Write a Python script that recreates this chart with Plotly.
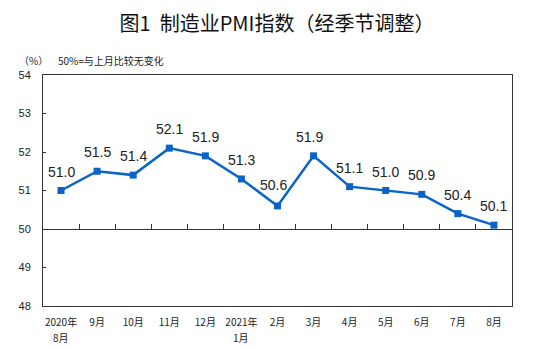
import plotly.graph_objects as go

months = ["2020年", "9月", "10月", "11月", "12月", "2021年", "2月", "3月",
          "4月", "5月", "6月", "7月", "8月"]
second_line = {0: "8月", 5: "1月"}
pmi = [51.0, 51.5, 51.4, 52.1, 51.9, 51.3, 50.6, 51.9, 51.1, 51.0, 50.9, 50.4, 50.1]
labels = [f"{v:.1f}" for v in pmi]

# label nudges (pixels) for a few points, as in the reference
label_dx = {6: -4, 7: -4}
label_dy = {6: 2}

LINE = "#0a64c8"
AX = "#333333"
TXT = "#222222"

fig = go.Figure()
fig.add_trace(go.Scatter(x=months, y=pmi, xaxis="x2", mode="lines",
                         line=dict(color="rgba(0,0,0,0)"), hoverinfo="skip", showlegend=False))
fig.add_trace(go.Scatter(
    x=months, y=pmi, mode="lines+markers",
    line=dict(color=LINE, width=2.5),
    marker=dict(symbol="square", size=7, color=LINE),
    showlegend=False, cliponaxis=False))

annotations = [
    dict(text="（%）", xref="paper", yref="paper", x=-26 / 469, y=1 + 15 / 231,
         xanchor="left", yanchor="middle", showarrow=False,
         font=dict(family="Noto Sans CJK SC", size=10, color=TXT)),
    dict(text="50%=与上月比较无变化", xref="paper", yref="paper", x=13 / 469, y=1 + 15 / 231,
         xanchor="left", yanchor="middle", showarrow=False,
         font=dict(family="Noto Sans CJK SC", size=10, color=TXT)),
]
for i, t in second_line.items():
    annotations.append(dict(text=t, xref="x", yref="paper", x=months[i], y=-31 / 231,
                            xanchor="center", yanchor="middle", showarrow=False,
                            borderpad=0,
                            font=dict(family="Noto Sans CJK SC", size=10, color=TXT)))
for i, (m, v, t) in enumerate(zip(months, pmi, labels)):
    annotations.append(dict(text=t, x=m, y=v, xref="x", yref="y", showarrow=False,
                            xanchor="center", yanchor="bottom",
                            xshift=label_dx.get(i, 0), yshift=9 + label_dy.get(i, 0),
                            font=dict(family="Liberation Sans, Arial", size=14, color=TXT)))

fig.update_layout(
    width=554, height=349,
    margin=dict(l=43, r=42, t=75, b=43, autoexpand=False),
    paper_bgcolor="white", plot_bgcolor="white",
    title=dict(text="图1  制造业PMI指数（经季节调整）", x=0.5, xanchor="center",
               y=1 - 24 / 349, yanchor="middle", automargin=False,
               font=dict(family="Noto Sans CJK SC", size=20, color="#111111")),
    xaxis=dict(type="category", range=[-0.5, 12.5], showline=True, linecolor=AX, linewidth=1,
               mirror=True, ticks="", showgrid=False, zeroline=False, automargin=False,
               tickfont=dict(family="Noto Sans CJK SC", size=10, color=TXT),
               ticklabelstandoff=7),
    xaxis2=dict(type="category", range=[-0.5, 12.5], overlaying="x", anchor="free",
                position=1 / 3, showline=True, linecolor=AX, linewidth=1, automargin=False,
                ticks="inside", tickson="boundaries", ticklen=5, tickcolor=AX,
                showticklabels=False, showgrid=False, zeroline=False),
    yaxis=dict(range=[48, 54], dtick=1, showline=True, linecolor=AX, linewidth=1, mirror=True,
               ticks="inside", ticklen=3, tickcolor=AX, showgrid=False, zeroline=False,
               automargin=False,
               tickfont=dict(family="Liberation Sans, Arial", size=11, color=TXT),
               ticklabelstandoff=9),
    annotations=annotations,
)

fig.write_html("out.html")
